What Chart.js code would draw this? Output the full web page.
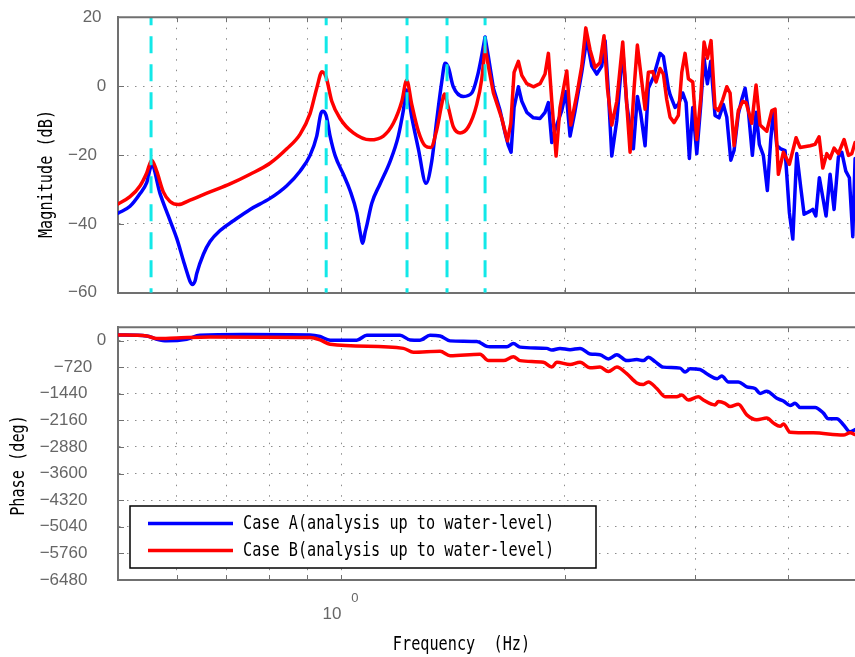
<!DOCTYPE html>
<html>
<head>
<meta charset="utf-8">
<script src="https://cdn.jsdelivr.net/npm/chart.js@4/dist/chart.umd.min.js"></script>
<style>
  html, body { margin: 0; padding: 0; background: #fff; overflow: hidden; width: 855px; height: 657px; }
  #wrap { position: relative; width: 855px; height: 657px; overflow: hidden; }
  canvas { position: absolute; left: 0; }
  #mag { top: 0; }
  #phase { top: 310px; }
</style>
</head>
<body>
<div id="wrap">
  <canvas id="mag" width="862" height="310" style="width:862px;height:310px"></canvas>
  <canvas id="phase" width="862" height="347" style="width:862px;height:347px"></canvas>
</div>
<script>
// ---- frequency response data (Hz, dB, deg) ----
const seriesNames = ['Case A(analysis up to water-level)', 'Case B(analysis up to water-level)'];

const magFreqA = [0.500,0.519,0.5355,0.5466,0.5552,0.5697,0.5845,0.6000,0.6124,0.6220,0.6253,0.6297,0.6352,0.6384,0.6517,0.6653,0.6864,0.7154,0.7534,0.8013,0.8442,0.8796,0.9074,0.9264,0.9380,0.9439,0.9537,0.9656,0.9806,1.0062,1.0273,1.0489,1.0597,1.0686,1.0763,1.0820,1.0990,1.1275,1.1630,1.1933,1.2121,1.2248,1.2441,1.2699,1.3006,1.3236,1.3444,1.3654,1.3796,1.3937,1.4154,1.4601,1.4987,1.5297,1.5621,1.5780,1.6029,1.6365,1.6620,1.6794,1.6934,1.7091,1.7321,1.7505,1.7778,1.8146,1.8526,1.8815,1.9011,1.9213,1.9409,1.9815,2.0081,2.0333,2.0654,2.1086,2.1414,2.1752,2.2091,2.2435,2.2669,2.2900,2.3144,2.3509,2.3946,2.4245,2.4747,2.5057,2.5324,2.5665,2.5927,2.6335,2.6887,2.7164,2.7588,2.7733,2.8165,2.8458,2.8847,2.9147,2.9444,2.9757,3.0130,3.0507,3.0818,3.1139,3.1463,3.1886,3.2285,3.2720,3.3069,3.3483,3.3824,3.4277,3.4642,3.5003,3.5360,3.5802,3.6217,3.6586,3.7044,3.7508,3.7907,3.8214,3.8621,3.9104,3.9630,4.0162,4.0590,4.1088,4.1602,4.2036,4.2827,4.3184,4.3593,4.4078,4.5002,4.5566,4.6136,4.6757,4.7255,4.7846,4.8378,4.8893,4.9243];
const magA = [-36.9,-34.9,-31.2,-28.0,-23.0,-31.2,-37.7,-44.2,-50.6,-55.3,-56.7,-57.6,-56.5,-54.4,-48.8,-45.1,-41.9,-39.1,-35.8,-32.6,-28.9,-24.7,-20.1,-14.5,-8.1,-7.3,-8.5,-14.5,-20.1,-25.6,-30.3,-36.8,-42.3,-45.6,-42.5,-40.5,-34.0,-28.4,-21.9,-14.5,-7.1,-1.1,-9.0,-18.2,-28.2,-21.9,-9.9,1.2,6.6,5.4,-0.2,-3.0,-2.0,4.0,14.2,8.6,-0.6,-7.1,-13.6,-17.3,-19.2,-6.2,-0.2,-4.4,-7.6,-9.2,-9.4,-7.6,-4.8,-16.4,-12.7,-7.1,-1.6,-14.5,-7.1,4.0,13.7,5.8,3.5,5.8,13.2,-1.6,-20.3,-9.9,10.5,-5.3,-18.2,-3.0,-8.1,-17.3,-0.6,2.6,9.5,8.6,-0.6,-2.5,-6.2,-5.3,-2.0,-4.8,-21.0,-6.2,-19.6,-5.3,8.1,0.7,7.2,-8.5,-9.2,-5.3,-9.0,-21.5,-18.7,-8.1,-3.9,-0.6,-7.1,-20.1,-7.6,-16.9,-20.1,-30.3,-15.5,-7.1,-17.3,-18.2,-18.7,-36.8,-44.4,-19.6,-29.4,-37.2,-36.3,-35.8,-37.7,-26.6,-37.7,-25.6,-35.8,-20.6,-19.2,-24.7,-26.6,-43.7,-21.0];

const magFreqB = [0.500,0.519,0.5355,0.5466,0.5552,0.5638,0.5755,0.5876,0.6029,0.6253,0.6653,0.7079,0.7534,0.8013,0.8442,0.8796,0.9074,0.9264,0.9419,0.9537,0.9707,0.9960,1.0379,1.0931,1.1393,1.1750,1.2064,1.2248,1.2441,1.2699,1.2965,1.3196,1.3444,1.3654,1.3765,1.3937,1.4154,1.4454,1.4832,1.5222,1.5460,1.5621,1.5780,1.6029,1.6451,1.6741,1.6919,1.7091,1.7321,1.7505,1.7778,1.8146,1.8526,1.8815,1.9011,1.9213,1.9471,1.9710,2.0127,2.0380,2.0764,2.1086,2.1350,2.1638,2.1974,2.2316,2.2594,2.2832,2.3144,2.3509,2.3946,2.4245,2.4497,2.4803,2.5057,2.5405,2.5665,2.5927,2.6286,2.6554,2.6887,2.7164,2.7447,2.7733,2.8081,2.8458,2.8760,2.9055,2.9357,2.9757,3.0130,3.0507,3.0818,3.1139,3.1494,3.1886,3.2215,3.2659,3.3069,3.3410,3.3824,3.4277,3.4754,3.5111,3.5738,3.6217,3.6670,3.7440,3.8031,3.8418,3.8810,3.9420,4.0162,4.1003,4.1516,4.2827,4.3493,4.4037,4.4547,4.5106,4.5566,4.6136,4.6757,4.7594,4.8233,4.8747,4.9243];
const magB = [-34.2,-32.1,-28.9,-25.2,-21.5,-24.7,-30.7,-33.5,-34.4,-33.1,-30.7,-28.4,-25.6,-22.4,-18.2,-14.0,-8.0,-0.6,4.2,2.6,-4.4,-9.4,-13.6,-15.6,-14.5,-10.8,-4.4,1.7,-5.3,-13.1,-17.3,-17.8,-12.7,-5.3,-2.3,-6.2,-11.8,-13.6,-11.8,-5.3,2.1,11.4,5.8,-2.0,-9.4,-15.9,-10.8,4.0,7.2,3.1,0.7,-0.2,0.7,3.5,9.5,-4.4,-20.3,-6.2,4.4,-11.3,-2.5,5.8,16.9,10.5,5.4,6.8,14.6,-0.6,-11.3,-4.4,12.8,-5.3,-19.2,-0.6,11.9,1.2,-6.7,4.0,4.2,1.2,5.1,3.5,-3.9,-9.0,-10.6,-8.5,4.0,9.5,2.1,1.2,-15.5,-3.4,12.8,8.1,13.2,-6.2,-7.1,-3.9,-0.2,-2.0,-17.3,-7.1,-4.4,-4.8,-10.8,0.3,-11.3,-13.1,-7.1,-6.7,-25.6,-19.2,-22.7,-15.0,-17.8,-17.3,-16.9,-14.7,-23.8,-19.6,-21.0,-18.0,-19.6,-15.5,-20.1,-19.6,-16.4];

const phaseFreqA = [0.500,0.5466,0.5638,0.5816,0.6188,0.6449,0.7373,0.9074,0.9360,0.9656,1.0489,1.0820,1.1999,1.2377,1.2765,1.3166,1.3584,1.4012,1.5222,1.5703,1.5865,1.6713,1.7054,1.7413,1.8915,1.9213,1.9710,2.0333,2.0973,2.1638,2.2316,2.2900,2.3509,2.4245,2.5011,2.5527,2.5927,2.6475,2.7164,2.8609,2.9055,2.9510,3.0437,3.1080,3.2112,3.2559,3.3242,3.4277,3.5187,3.6106,3.6670,3.7440,3.8621,3.9420,4.0249,4.0880,4.1516,4.3493,4.4630,4.5328,4.6530,4.7485,4.8487,4.9243];
const phaseA = [150,123,35,-10,35,141,160,150,107,8,8,141,141,16,8,141,123,-10,-27,-160,-171,-171,-80,-179,-213,-259,-213,-251,-213,-365,-384,-499,-384,-544,-517,-544,-453,-571,-720,-747,-853,-765,-784,-899,-1032,-960,-1120,-1120,-1253,-1299,-1432,-1371,-1565,-1637,-1760,-1699,-1813,-1813,-1965,-2117,-2117,-2277,-2472,-2411];

const phaseFreqB = [0.500,0.5466,0.5638,0.6000,0.6653,0.9074,0.9360,0.9656,1.2121,1.2503,1.3584,1.4012,1.5379,1.5780,1.6535,1.7054,1.7413,1.8717,1.9213,1.9513,2.0333,2.0973,2.1638,2.2316,2.2900,2.3509,2.4245,2.5011,2.5527,2.5927,2.6614,2.7310,2.8314,2.8760,2.9357,3.0277,3.0753,3.1886,3.2215,3.2890,3.3410,3.4277,3.5187,3.6293,3.7440,3.8214,3.9014,3.9420,4.0249,4.3258,4.7485,4.8487,4.9243];
const phaseB = [150,123,53,70,97,80,16,-99,-213,-320,-293,-411,-373,-544,-544,-437,-544,-587,-720,-587,-651,-587,-739,-720,-837,-720,-899,-1147,-1192,-1120,-1299,-1520,-1520,-1477,-1611,-1520,-1611,-1744,-1653,-1699,-1787,-1725,-2011,-2144,-2099,-2232,-2320,-2260,-2480,-2499,-2560,-2499,-2544];

// natural frequencies marked with dashed lines (Hz)
const modeFreqs = [0.554, 0.954, 1.226, 1.388, 1.562];

// axis ranges and tick values
const freqRange = [0.5, 5];
const freqGrid = [0.6, 0.7, 0.8, 0.9, 1, 2, 3, 4];
const magRange = [-60, 20];
const magTicks = [20, 0, -20, -40, -60];
const phaseRange = [-6480, 360];
const phaseTicks = [0, -720, -1440, -2160, -2880, -3600, -4320, -5040, -5760, -6480];

// ---- styling ----
const BLUE = '#0000ff', RED = '#ff0000', CYAN = '#12e8e8';
const FRAME = '#707070', GRID = '#8c8c8c', TICKTXT = '#666666';
const MONO = '"DejaVu Sans Mono", "Liberation Mono", monospace';
// below this frequency the magnitude curves are drawn as smooth splines
const SMOOTH_LIMIT = 1.5621;

const zip = (xs, ys) => xs.map((x, i) => ({ x, y: ys[i] }));

function tickLabel(v) {
  const t = v < 0 ? '\u2212' + Math.abs(v) : String(v);
  return t + ' '.repeat(t.length);
}

// monospace text squeezed horizontally to a narrow cell width
function narrowText(ctx, text, x, y, opt) {
  const o = Object.assign({ size: 19, sx: 0.8, align: 'left', rotate: 0, color: '#000', base: 'middle' }, opt || {});
  ctx.save();
  ctx.translate(x, y);
  if (o.rotate) ctx.rotate(o.rotate);
  ctx.scale(o.sx, 1);
  ctx.font = o.size + 'px ' + MONO;
  ctx.fillStyle = o.color;
  ctx.textAlign = o.align;
  ctx.textBaseline = o.base;
  ctx.fillText(text, 0, 0);
  ctx.restore();
}

// top frame edge and inward tick marks
const framePlugin = {
  id: 'frame',
  afterDraw(chart) {
    const { ctx, chartArea: a, scales } = chart;
    ctx.save();
    ctx.strokeStyle = FRAME;
    ctx.lineWidth = 2;
    ctx.beginPath();
    ctx.moveTo(a.left - 1, a.top);
    ctx.lineTo(a.right + 20, a.top);
    ctx.stroke();
    ctx.lineWidth = 1;
    ctx.beginPath();
    scales.y.ticks.forEach(t => {
      const y = Math.round(scales.y.getPixelForValue(t.value)) + 0.5;
      ctx.moveTo(a.left, y); ctx.lineTo(a.left + 6, y);
    });
    scales.x.ticks.forEach(t => {
      const x = Math.round(scales.x.getPixelForValue(t.value)) + 0.5;
      ctx.moveTo(x, a.top); ctx.lineTo(x, a.top + 5);
      ctx.moveTo(x, a.bottom); ctx.lineTo(x, a.bottom - 5);
    });
    ctx.stroke();
    ctx.restore();
  }
};

function xScale(height) {
  return {
    type: 'logarithmic',
    min: freqRange[0], max: freqRange[1],
    afterBuildTicks: s => { s.ticks = freqGrid.map(v => ({ value: v })); },
    afterFit: s => { s.height = height; },
    ticks: { display: false },
    grid: { color: GRID, lineWidth: 1, drawTicks: false },
    border: { display: true, color: FRAME, width: 2, dash: [1.5, 9] }
  };
}

function yScale(range, ticks) {
  return {
    type: 'linear',
    min: range[0], max: range[1],
    afterBuildTicks: s => { s.ticks = ticks.map(v => ({ value: v })); },
    afterFit: s => { s.width = 118; },
    ticks: {
      callback: v => tickLabel(v),
      color: TICKTXT,
      font: { family: '"Liberation Sans", Arial, sans-serif', size: 17 },
      padding: 7
    },
    grid: { color: GRID, lineWidth: 1, drawTicks: false },
    border: { display: true, color: FRAME, width: 2, dash: [1.5, 6.5] }
  };
}

function lineSet(label, points, color, order, smooth) {
  return {
    label, data: points, borderColor: color, backgroundColor: color,
    borderWidth: 3.5, pointRadius: 0, order,
    tension: smooth ? 0.4 : 0,
    cubicInterpolationMode: smooth ? 'monotone' : 'default',
    borderJoinStyle: 'round', borderCapStyle: 'round', fill: false
  };
}

// resonance region (smooth) and the dense upper band (piecewise straight)
function magSets(label, freqs, vals, color, order) {
  const pts = zip(freqs, vals);
  return [
    lineSet(label, pts.filter(p => p.x <= SMOOTH_LIMIT), color, order, true),
    lineSet(label, pts.filter(p => p.x >= SMOOTH_LIMIT), color, order, false)
  ];
}

const baseOptions = {
  responsive: false,
  animation: false,
  events: [],
  plugins: { legend: { display: false }, tooltip: { enabled: false } },
  layout: { padding: { top: 14, right: 2, bottom: 0, left: 0 } }
};

// ---- magnitude ----
const modeSets = modeFreqs.map(f => ({
  label: 'mode ' + f,
  data: [{ x: f, y: magRange[1] }, { x: f, y: magRange[0] }],
  borderColor: CYAN, borderWidth: 3, borderDash: [17, 11], borderDashOffset: 9,
  pointRadius: 0, tension: 0, order: 0, borderCapStyle: 'butt'
}));

new Chart(document.getElementById('mag'), {
  type: 'line',
  data: {
    datasets: [
      ...modeSets,
      ...magSets(seriesNames[1], magFreqB, magB, RED, 1),
      ...magSets(seriesNames[0], magFreqA, magA, BLUE, 2)
    ]
  },
  options: Object.assign({}, baseOptions, {
    scales: { x: xScale(8), y: yScale(magRange, magTicks) }
  }),
  plugins: [framePlugin, {
    id: 'magTitle',
    afterDraw(chart) {
      narrowText(chart.ctx, 'Magnitude (dB)', 47, 174, { rotate: -Math.PI / 2, align: 'center' });
    }
  }]
});

// ---- phase ----
new Chart(document.getElementById('phase'), {
  type: 'line',
  data: {
    datasets: [
      lineSet(seriesNames[1], zip(phaseFreqB, phaseB), RED, 1, true),
      lineSet(seriesNames[0], zip(phaseFreqA, phaseA), BLUE, 2, true)
    ]
  },
  options: Object.assign({}, baseOptions, {
    scales: { x: xScale(77), y: yScale(phaseRange, phaseTicks) }
  }),
  plugins: [framePlugin, {
    id: 'phaseText',
    afterDraw(chart) {
      const ctx = chart.ctx;
      const a = chart.chartArea;
      narrowText(ctx, 'Phase (deg)', 19, 155.5, { rotate: -Math.PI / 2, align: 'center' });
      narrowText(ctx, 'Frequency  (Hz)', 461.5, 335.5, { align: 'center' });

      // decade label 10^0
      const x1 = chart.scales.x.getPixelForValue(1);
      ctx.save();
      ctx.fillStyle = TICKTXT;
      ctx.textBaseline = 'alphabetic';
      ctx.font = '17px "Liberation Sans", Arial, sans-serif';
      ctx.textAlign = 'right';
      ctx.fillText('10', x1, a.bottom + 39);
      ctx.font = '13px "Liberation Sans", Arial, sans-serif';
      ctx.textAlign = 'left';
      ctx.fillText('0', x1 + 10, a.bottom + 22);
      ctx.restore();

      // legend box
      const box = { x: 130, y: 196, w: 466, h: 62 };
      ctx.save();
      ctx.fillStyle = '#fff';
      ctx.fillRect(box.x, box.y, box.w, box.h);
      ctx.strokeStyle = '#000';
      ctx.lineWidth = 1.5;
      ctx.strokeRect(box.x, box.y, box.w, box.h);
      const rows = [
        { name: seriesNames[0], color: BLUE, y: box.y + 17.5 },
        { name: seriesNames[1], color: RED, y: box.y + 44.5 }
      ];
      rows.forEach(r => {
        ctx.strokeStyle = r.color;
        ctx.lineWidth = 3.5;
        ctx.beginPath();
        ctx.moveTo(box.x + 18, r.y);
        ctx.lineTo(box.x + 103, r.y);
        ctx.stroke();
        narrowText(ctx, r.name, box.x + 113, r.y + 1, { align: 'left' });
      });
      ctx.restore();
    }
  }]
});
</script>
</body>
</html>
